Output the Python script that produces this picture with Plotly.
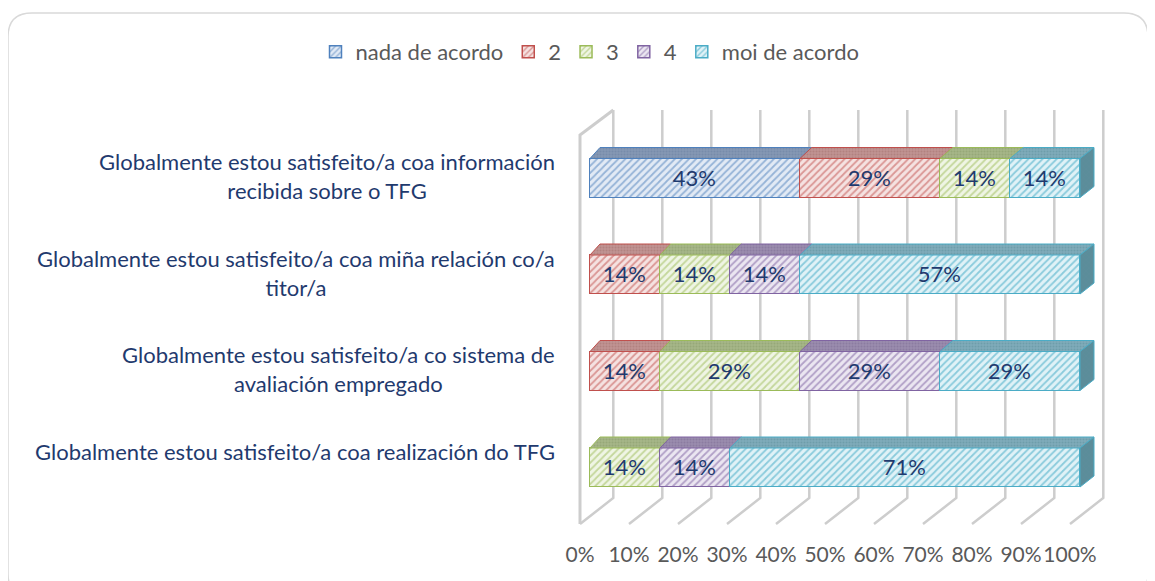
import plotly.graph_objects as go

# ---------------- data ----------------
categories = [
    "Globalmente estou satisfeito/a coa información<br>recibida sobre o TFG",
    "Globalmente estou satisfeito/a coa miña relación co/a<br>titor/a",
    "Globalmente estou satisfeito/a co sistema de<br>avaliación empregado",
    "Globalmente estou satisfeito/a coa realización do TFG",
]
series_names = ["nada de acordo", "2", "3", "4", "moi de acordo"]
nada_de_acordo = [42.9, 0, 0, 0]
val_2 = [28.6, 14.3, 14.3, 0]
val_3 = [14.3, 14.3, 28.6, 14.3]
val_4 = [0, 14.3, 28.6, 14.3]
moi_de_acordo = [14.3, 57.1, 28.6, 71.4]
tick_values = [0, 0.1, 0.2, 0.3, 0.4, 0.5, 0.6, 0.7, 0.8, 0.9, 1.0]
tick_labels = ["0%", "10%", "20%", "30%", "40%", "50%", "60%", "70%", "80%", "90%", "100%"]

# ---------------- style ----------------
series = [nada_de_acordo, val_2, val_3, val_4, moi_de_acordo]
base_c = ["#4F81BD", "#C0504D", "#9BBB59", "#8064A2", "#4BACC6"]
light_c = ["#E2EAF5", "#F5E2E1", "#EFF5E4", "#EBE6F1", "#E0F2F7"]
hatch_c = ["#95B3D7", "#DA9694", "#C4D79B", "#B1A0C7", "#8ACBDC"]
top_c = ["#8598B4", "#C09492", "#A6B688", "#9A8CAE", "#7FACBA"]
top_dot = ["#6A7F9F", "#A3706E", "#889A68", "#7B6B94", "#5E8E9C"]
side_c = ["#5E7A9E", "#9A5E5C", "#7C9150", "#6A5888", "#5B8D9A"]
navy = "#1F3A6E"
gray_txt = "#595959"
grid_c = "#CDCDCD"
FONT = "Lato"

OFF = 8  # page body margin in the browser
W, H = 1155, 581
ML, MR, MT, MB = 552, 30, 82, 49
PLOT_W = W - ML - MR
PLOT_H = H - MT - MB
PXX = 490.0   # px per x unit
PXY = 96.5    # px per category
X0_PX = 590.0 - OFF  # figure px of x=0 on bar front
Y0_PX = 467.5 - OFF  # figure px of bottom row centre
x_rng = [(ML - X0_PX) / PXX, (ML - X0_PX) / PXX + PLOT_W / PXX]
y_rng = [(Y0_PX - (H - MB)) / PXY, (Y0_PX - MT) / PXY]

BAR_W = 39 / PXY
DY_TOP = 11 / PXY


def dxd(v):
    return (10 + 4 * v) / PXX


def ypx(py):
    return (Y0_PX - (py - OFF)) / PXY


BACK = 23.3 / PXX
FRONT = -10 / PXX
Y_TOP = ypx(110)
Y_FLOOR_BACK = ypx(498)
Y_FLOOR_FRONT = ypx(524)
Y_WALL_FRONT_TOP = ypx(135)

n = len(categories)
ypos = list(range(n - 1, -1, -1))
totals = [sum(s[i] for s in series) for i in range(n)]
fracs = [[s[i] / totals[i] for i in range(n)] for s in series]

fig = go.Figure()

# bars (front faces)
for k, name in enumerate(series_names):
    xs = [f if f > 0 else None for f in fracs[k]]
    txt = [f"{v:.0f}%" if v > 0 else "" for v in series[k]]
    fig.add_trace(go.Bar(
        orientation="h", y=ypos, x=xs, name=name, width=BAR_W,
        text=txt, textposition="inside", insidetextanchor="middle",
        textangle=0, textfont=dict(color=navy, size=22, family=FONT),
        marker=dict(color=light_c[k], line=dict(color=base_c[k], width=1.5),
                    pattern=dict(shape="/", fgcolor=hatch_c[k], bgcolor=light_c[k],
                                 size=5, solidity=0.35, fillmode="replace")),
        hoverinfo="skip",
    ))

# 3D top faces and right end faces, computed from the data
cum = [0.0] * n
last = [None] * n
for k in range(len(series)):
    px_, py_ = [], []
    for i in range(n):
        f = fracs[k][i]
        if f <= 0:
            continue
        x0, x1 = cum[i], cum[i] + f
        yt = ypos[i] + BAR_W / 2
        px_ += [x0, x0 + dxd(x0), x1 + dxd(x1), x1, x0, None]
        py_ += [yt, yt + DY_TOP, yt + DY_TOP, yt, yt, None]
        cum[i] = x1
        last[i] = k
    fig.add_trace(go.Scatter(
        x=px_, y=py_, mode="lines", fill="toself", fillcolor=top_c[k],
        fillpattern=dict(shape=".", fgcolor=top_dot[k], bgcolor=top_c[k], size=3, solidity=0.4),
        line=dict(color=base_c[k], width=1), showlegend=False, hoverinfo="skip",
    ))

for i in range(n):
    k = last[i]
    xe = cum[i]
    yb, yt = ypos[i] - BAR_W / 2, ypos[i] + BAR_W / 2
    fig.add_trace(go.Scatter(
        x=[xe, xe, xe + dxd(xe), xe + dxd(xe), xe],
        y=[yb, yt, yt + DY_TOP, yb + DY_TOP, yb],
        mode="lines", fill="toself", fillcolor=side_c[k],
        fillpattern=dict(shape="x", fgcolor=top_dot[k], bgcolor=side_c[k], size=4, solidity=0.3),
        line=dict(color=base_c[k], width=1), showlegend=False, hoverinfo="skip",
    ))

# back wall / floor grid lines
shapes = []
for v in tick_values:
    shapes.append(dict(
        type="path", xref="x", yref="y", layer="below",
        path=f"M {v + BACK},{Y_TOP} L {v + BACK},{Y_FLOOR_BACK} L {v + FRONT},{Y_FLOOR_FRONT}",
        line=dict(color=grid_c, width=2.5),
    ))
shapes.append(dict(
    type="path", xref="x", yref="y", layer="below",
    path=f"M {FRONT},{Y_FLOOR_FRONT} L {FRONT},{Y_WALL_FRONT_TOP} L {BACK},{Y_TOP}",
    line=dict(color=grid_c, width=3),
))


# rounded chart border (page coordinates)
def P(px, py):
    return f"{(px - OFF - ML) / PLOT_W},{(H - MB - (py - OFF)) / PLOT_H}"


bx0, by0, bx1, by1, r = 8, 13, 1148, 598, 24
border = (f"M {P(bx0 + r, by0)} L {P(bx1 - r, by0)} Q {P(bx1, by0)} {P(bx1, by0 + r)} "
          f"L {P(bx1, by1 - r)} Q {P(bx1, by1)} {P(bx1 - r, by1)} "
          f"L {P(bx0 + r, by1)} Q {P(bx0, by1)} {P(bx0, by1 - r)} "
          f"L {P(bx0, by0 + r)} Q {P(bx0, by0)} {P(bx0 + r, by0)} Z")
shapes.append(dict(type="path", xref="paper", yref="paper", path=border,
                   line=dict(color="#D9D9D9", width=1.5)))

# category labels
annotations = []
for i, c in enumerate(categories):
    annotations.append(dict(
        x=(557 - OFF - ML) / PLOT_W, y=ypos[i], xref="paper", yref="y",
        xanchor="right", yanchor="top", yshift=32, align="center",
        text=c, showarrow=False, font=dict(color=navy, size=22, family=FONT),
    ))

fig.update_layout(
    width=W, height=H,
    margin=dict(l=ML, r=MR, t=MT, b=MB, autoexpand=False),
    paper_bgcolor="white", plot_bgcolor="white",
    barmode="stack", bargap=0,
    shapes=shapes, annotations=annotations,
    font=dict(family=FONT, color=gray_txt, size=22),
    legend=dict(orientation="h", xref="container", yref="container",
                x=(590 - OFF) / W, y=1 - (52 - OFF) / H, xanchor="center", yanchor="middle",
                font=dict(size=22, color=gray_txt, family=FONT),
                traceorder="normal", itemclick=False, itemdoubleclick=False),
    xaxis=dict(range=x_rng, tickvals=tick_values, ticktext=tick_labels,
               showgrid=False, zeroline=False, showline=False, ticks="",
               tickangle=0, automargin=False,
               ticklabelshift=-10, tickfont=dict(size=21, color=gray_txt, family=FONT),
               fixedrange=True),
    yaxis=dict(range=y_rng, showgrid=False, zeroline=False, showline=False,
               showticklabels=False, ticks="", automargin=False, fixedrange=True),
    showlegend=True,
)

fig.write_html("out.html")
